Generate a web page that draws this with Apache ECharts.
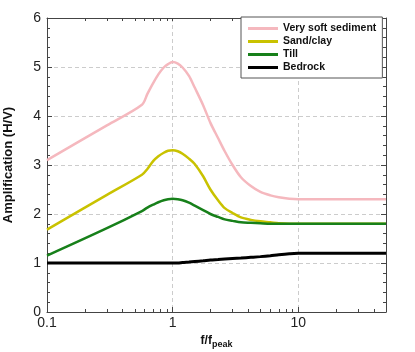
<!DOCTYPE html>
<html>
<head>
<meta charset="utf-8">
<script src="https://cdn.jsdelivr.net/npm/echarts@6/dist/echarts.min.js"></script>
<style>
  html, body { margin: 0; padding: 0; background: #fff; }
  #chart { width: 415px; height: 352px; }
</style>
</head>
<body>
<div id="chart"></div>
<script>
const freq = [0.1, 0.3, 0.57, 0.63, 0.7, 0.77, 0.85, 0.92, 1, 1.1, 1.2, 1.35, 1.5, 1.75, 2, 2.3, 2.6, 3, 3.5, 4.2, 5, 6, 7, 8.5, 10, 50];
const softSediment = [3.1, 3.81, 4.23, 4.45, 4.67, 4.85, 4.99, 5.06, 5.1, 5.07, 4.99, 4.82, 4.58, 4.22, 3.86, 3.55, 3.28, 3.0, 2.75, 2.57, 2.45, 2.38, 2.34, 2.31, 2.3, 2.3];
const sandClay = [1.68, 2.39, 2.8, 2.92, 3.08, 3.18, 3.25, 3.29, 3.3, 3.28, 3.23, 3.13, 3.02, 2.77, 2.5, 2.28, 2.12, 2.02, 1.93, 1.88, 1.85, 1.83, 1.81, 1.8, 1.8, 1.8];
const till = [1.15, 1.71, 2.06, 2.13, 2.19, 2.24, 2.28, 2.3, 2.31, 2.3, 2.28, 2.23, 2.17, 2.08, 2.0, 1.94, 1.89, 1.86, 1.83, 1.82, 1.81, 1.8, 1.8, 1.8, 1.8, 1.8];
const bedrock = [1, 1, 1, 1, 1, 1, 1, 1, 1, 1, 1.01, 1.02, 1.03, 1.045, 1.06, 1.07, 1.08, 1.09, 1.1, 1.115, 1.13, 1.15, 1.17, 1.19, 1.2, 1.2];
const majorTicks = [0.1, 1, 10];
const minorTicks = [0.2, 0.3, 0.4, 0.5, 0.6, 0.7, 0.8, 0.9, 1, 2, 3, 4, 5, 6, 7, 8, 9, 10, 20, 30, 40];

const font = 'Arial, "Liberation Sans", sans-serif';
const frame = '#444';
const logMin = Math.log10(0.1);
const logMax = Math.log10(50);
const minorLog = minorTicks.map(v => Math.log10(v));

const pairs = ys => freq.map((f, i) => [f, ys[i]]);

const chart = echarts.init(document.getElementById('chart'));

// plain value axes in log10 units, only used to draw the 2..9 minor ticks
function tickAxis(position) {
  return {
    type: 'value',
    position: position,
    min: logMin,
    max: logMax,
    axisLine: { show: position === 'top', onZero: false, lineStyle: { color: frame, width: 1 } },
    axisTick: { show: true, inside: true, length: 3, customValues: minorLog, lineStyle: { color: frame } },
    axisLabel: { show: false },
    splitLine: { show: false },
  };
}

function line(name, ys, color, width) {
  return {
    name: name,
    type: 'line',
    xAxisIndex: 0,
    yAxisIndex: 0,
    data: pairs(ys),
    showSymbol: false,
    smooth: 0.3,
    lineStyle: { color: color, width: width },
    itemStyle: { color: color },
  };
}

chart.setOption({
  animation: false,
  textStyle: { fontFamily: font },
  grid: { left: 47, right: 29, top: 18, bottom: 40, outerBoundsMode: 'none', containLabel: false },
  legend: {
    orient: 'vertical',
    left: 241,
    top: 17,
    icon: 'rect',
    itemWidth: 30,
    itemHeight: 3,
    itemGap: 0,
    padding: [5, 6, 4, 7],
    borderColor: '#555',
    borderWidth: 1,
    backgroundColor: '#fff',
    textStyle: { fontFamily: font, fontSize: 10.5, fontWeight: 'bold', color: '#111', lineHeight: 13 },
    data: ['Very soft sediment', 'Sand/clay', 'Till', 'Bedrock'],
  },
  xAxis: [
    {
      type: 'log',
      logBase: 10,
      min: 0.1,
      max: 50,
      position: 'bottom',
      name: '{a|f/f}{b|peak}',
      nameLocation: 'middle',
      nameGap: 20,
      nameTextStyle: {
        rich: {
          a: { fontFamily: font, fontSize: 12, fontWeight: 'bold', color: '#111' },
          b: { fontFamily: font, fontSize: 9, fontWeight: 'bold', color: '#111', padding: [7, 0, 0, 0] },
        },
      },
      axisLine: { show: true, onZero: false, lineStyle: { color: frame, width: 1 } },
      axisTick: { show: true, inside: true, length: 5, lineStyle: { color: frame } },
      axisLabel: {
        fontFamily: font,
        fontSize: 14,
        color: '#222',
        margin: 4,
        formatter: v => (majorTicks.some(t => Math.abs(t - v) < 1e-9) ? String(v) : ''),
      },
      splitLine: { show: true, lineStyle: { color: '#ccc', type: [4, 3], width: 1 } },
    },
    tickAxis('bottom'),
    tickAxis('top'),
  ],
  yAxis: [
    {
      type: 'value',
      min: 0,
      max: 6,
      interval: 1,
      name: 'Amplification (H/V)',
      nameLocation: 'middle',
      nameGap: 32,
      nameTextStyle: { fontFamily: font, fontSize: 13, fontWeight: 'bold', color: '#111' },
      axisLine: { show: true, onZero: false, lineStyle: { color: frame, width: 1 } },
      axisTick: { show: true, inside: true, length: 5, lineStyle: { color: frame } },
      minorTick: { show: true, splitNumber: 5, length: 3, lineStyle: { color: frame } },
      axisLabel: { fontFamily: font, fontSize: 14, color: '#222', margin: 6 },
      splitLine: { show: true, lineStyle: { color: '#ccc', type: [4, 3], width: 1 } },
    },
    {
      type: 'value',
      min: 0,
      max: 6,
      interval: 1,
      position: 'right',
      axisLine: { show: true, onZero: false, lineStyle: { color: frame, width: 1 } },
      axisTick: { show: true, inside: true, length: 5, lineStyle: { color: frame } },
      minorTick: { show: true, splitNumber: 5, length: 3, lineStyle: { color: frame } },
      axisLabel: { show: false },
      splitLine: { show: false },
    },
  ],
  series: [
    line('Very soft sediment', softSediment, '#f5b8be', 2.5),
    line('Sand/clay', sandClay, '#c9c200', 2.5),
    line('Till', till, '#17801a', 2.5),
    line('Bedrock', bedrock, '#000000', 3),
  ],
});
</script>
</body>
</html>
